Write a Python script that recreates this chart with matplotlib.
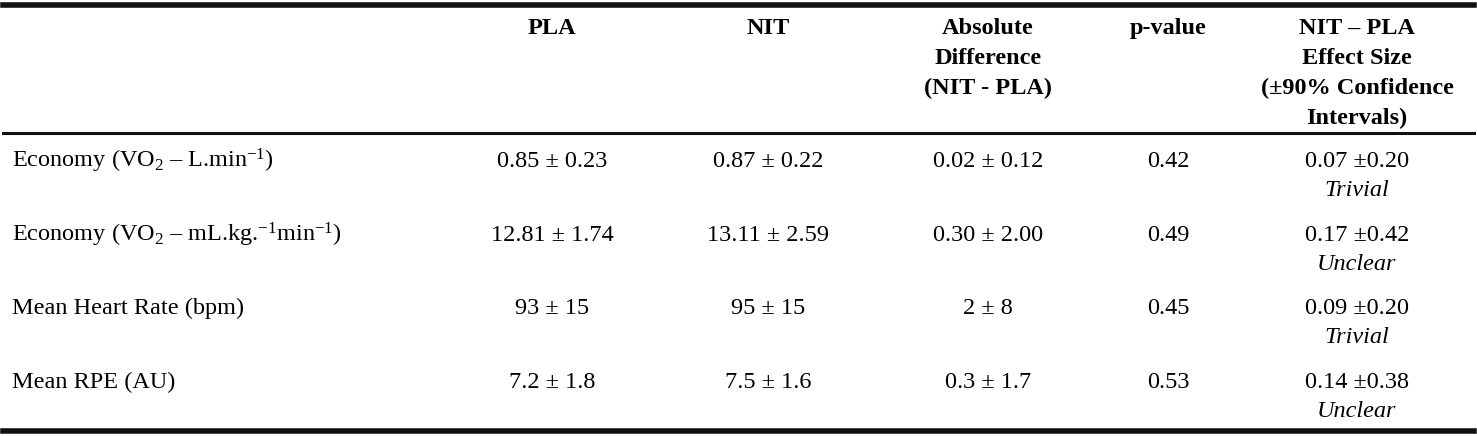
import matplotlib
matplotlib.use("Agg")
import matplotlib.pyplot as plt
from matplotlib.lines import Line2D

plt.rcParams["font.family"] = "Liberation Serif"
plt.rcParams["mathtext.fontset"] = "custom"
plt.rcParams["mathtext.rm"] = "Liberation Serif"
plt.rcParams["mathtext.it"] = "Liberation Serif:italic"
plt.rcParams["axes.unicode_minus"] = False

headers = [["PLA"], ["NIT"], ["Absolute", "Difference", "(NIT - PLA)"], ["p-value"],
           ["NIT \u2013 PLA", "Effect Size", "(\u00b190% Confidence", "Intervals)"]]
row_labels = ["Economy (VO$_2$ \u2013 L.min$^{\\mathrm{-1}}$)",
              "Economy (VO$_2$ \u2013 mL.kg.$^{\\mathrm{-1}}$min$^{\\mathrm{-1}}$)",
              "Mean Heart Rate (bpm)", "Mean RPE (AU)"]
pla = ["0.85 \u00b1 0.23", "12.81 \u00b1 1.74", "93 \u00b1 15", "7.2 \u00b1 1.8"]
nit = ["0.87 \u00b1 0.22", "13.11 \u00b1 2.59", "95 \u00b1 15", "7.5 \u00b1 1.6"]
absdiff = ["0.02 \u00b1 0.12", "0.30 \u00b1 2.00", "2 \u00b1 8", "0.3 \u00b1 1.7"]
pvals = ["0.42", "0.49", "0.45", "0.53"]
effect = ["0.07 \u00b10.20", "0.17 \u00b10.42", "0.09 \u00b10.20", "0.14 \u00b10.38"]
qual = ["Trivial", "Unclear", "Trivial", "Unclear"]

W, H = 1477, 436
fig = plt.figure(figsize=(W/100, H/100), dpi=100)
ax = fig.add_axes([0, 0, 1, 1])
ax.set_xlim(0, W); ax.set_ylim(H, 0); ax.axis("off")

fs = 17.5
bo = 7  # baseline offset from visual centre
col_x = [552, 768, 988, 1168, 1357]
for cx, hd in zip(col_x, headers):
    for i, line in enumerate(hd):
        ax.text(cx, 27 + 30*i + bo, line, ha="center", va="baseline", fontsize=fs, fontweight="bold")

ax.add_line(Line2D([3, W-3], [5, 5], color="#111", lw=4))
ax.add_line(Line2D([3, W-3], [133, 133], color="#111", lw=2.2))
ax.add_line(Line2D([3, W-3], [431, 431], color="#111", lw=4))

row_y = [160, 234, 307, 381]
for r, y in enumerate(row_y):
    ax.text(12, y + bo, row_labels[r], ha="left", va="baseline", fontsize=fs)
    for cx, vals in zip(col_x, [pla, nit, absdiff, pvals, effect]):
        ax.text(cx, y + bo, vals[r], ha="center", va="baseline", fontsize=fs)
    ax.text(col_x[4], y + 29 + bo, qual[r], ha="center", va="baseline", fontsize=fs, style="italic")

fig.savefig("out.png", dpi=100)
